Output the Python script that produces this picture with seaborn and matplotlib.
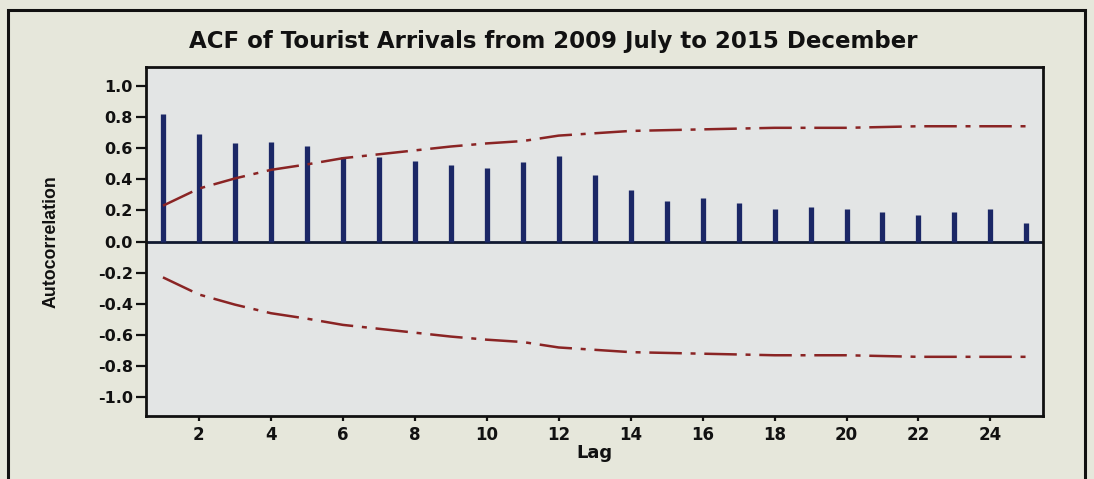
import matplotlib
matplotlib.use("Agg")
import matplotlib.pyplot as plt
import matplotlib.patches as mpatches
import pandas as pd
import seaborn as sns

# Autocorrelation by lag, with the 5% significance limits
lags = list(range(1, 26))
acf_values = [0.82, 0.69, 0.63, 0.64, 0.615, 0.54, 0.54, 0.52, 0.49, 0.47,
              0.51, 0.55, 0.43, 0.33, 0.26, 0.28, 0.25, 0.21, 0.22, 0.21,
              0.19, 0.17, 0.19, 0.21, 0.12]
limit_values = [0.23, 0.34, 0.405, 0.46, 0.495, 0.535, 0.56, 0.585, 0.61, 0.63,
                0.645, 0.68, 0.695, 0.71, 0.715, 0.72, 0.725, 0.73, 0.73, 0.73,
                0.735, 0.74, 0.74, 0.74, 0.74]
y_ticks = [1.0, 0.8, 0.6, 0.4, 0.2, 0.0, -0.2, -0.4, -0.6, -0.8, -1.0]
x_ticks = [2, 4, 6, 8, 10, 12, 14, 16, 18, 20, 22, 24]

sns.set_theme(style="white")
plt.rcParams["font.family"] = ["DejaVu Sans"]

page_bg = "#e6e7db"
panel_bg = "#e3e5e5"
bar_color = "#1b2766"
limit_color = "#8a2424"
ink = "#111111"

fig = plt.figure(figsize=(10.94, 4.79), dpi=100)
fig.patch.set_facecolor(page_bg)
ax = fig.add_axes([0.1335, 0.1315, 0.8195, 0.7285])
ax.set_facecolor(panel_bg)

# outer border of the graph page
fig.patches.append(mpatches.Rectangle((0.007, -0.02), 0.985, 1.0,
                                      transform=fig.transFigure, fill=False,
                                      edgecolor=ink, linewidth=2.2,
                                      zorder=0))

df = pd.DataFrame({"Lag": lags, "ACF": acf_values,
                   "Upper": limit_values,
                   "Lower": [-v for v in limit_values]})

# zero reference line
ax.axhline(0, color="#101830", linewidth=2.0, zorder=2)

# ACF spikes
ax.vlines(df["Lag"], 0, df["ACF"], color=bar_color, linewidth=3.8, zorder=3)

# significance limits
for col in ["Upper", "Lower"]:
    sns.lineplot(data=df, x="Lag", y=col, ax=ax, color=limit_color,
                 linewidth=1.8, dashes=False, zorder=4)
for line in ax.get_lines()[-2:]:
    line.set_dashes((13, 3.5, 2, 3.5))

ax.set_xlim(0.53, 25.45)
ax.set_ylim(-1.12, 1.12)
ax.set_yticks(y_ticks)
ax.set_yticklabels([f"{t:.1f}" for t in y_ticks])
ax.set_xticks(x_ticks)

ax.tick_params(axis="y", direction="out", length=7, width=1.6, color=ink,
               labelsize=11.5, labelcolor=ink, left=True, pad=2.5)
ax.tick_params(axis="x", direction="out", length=3.6, width=1.6, color=ink,
               labelsize=12, labelcolor=ink, bottom=True, pad=3.5)
for lbl in ax.get_xticklabels() + ax.get_yticklabels():
    lbl.set_fontweight("bold")

for s in ax.spines.values():
    s.set_color(ink)
    s.set_linewidth(2.0)

ax.set_xlabel("Lag", fontsize=13, fontweight="bold", color=ink,
              labelpad=0)
ax.set_ylabel("Autocorrelation", fontsize=12.8, fontweight="bold",
              color=ink, family=["Liberation Sans", "DejaVu Sans"])
ax.yaxis.set_label_coords(-0.097, 0.5)

fig.text(0.506, 0.913, "ACF of Tourist Arrivals from 2009 July to 2015 December",
         ha="center", va="center", fontsize=16.5, fontweight="bold",
         color=ink)

fig.savefig("out.png", dpi=100, facecolor=fig.get_facecolor())
